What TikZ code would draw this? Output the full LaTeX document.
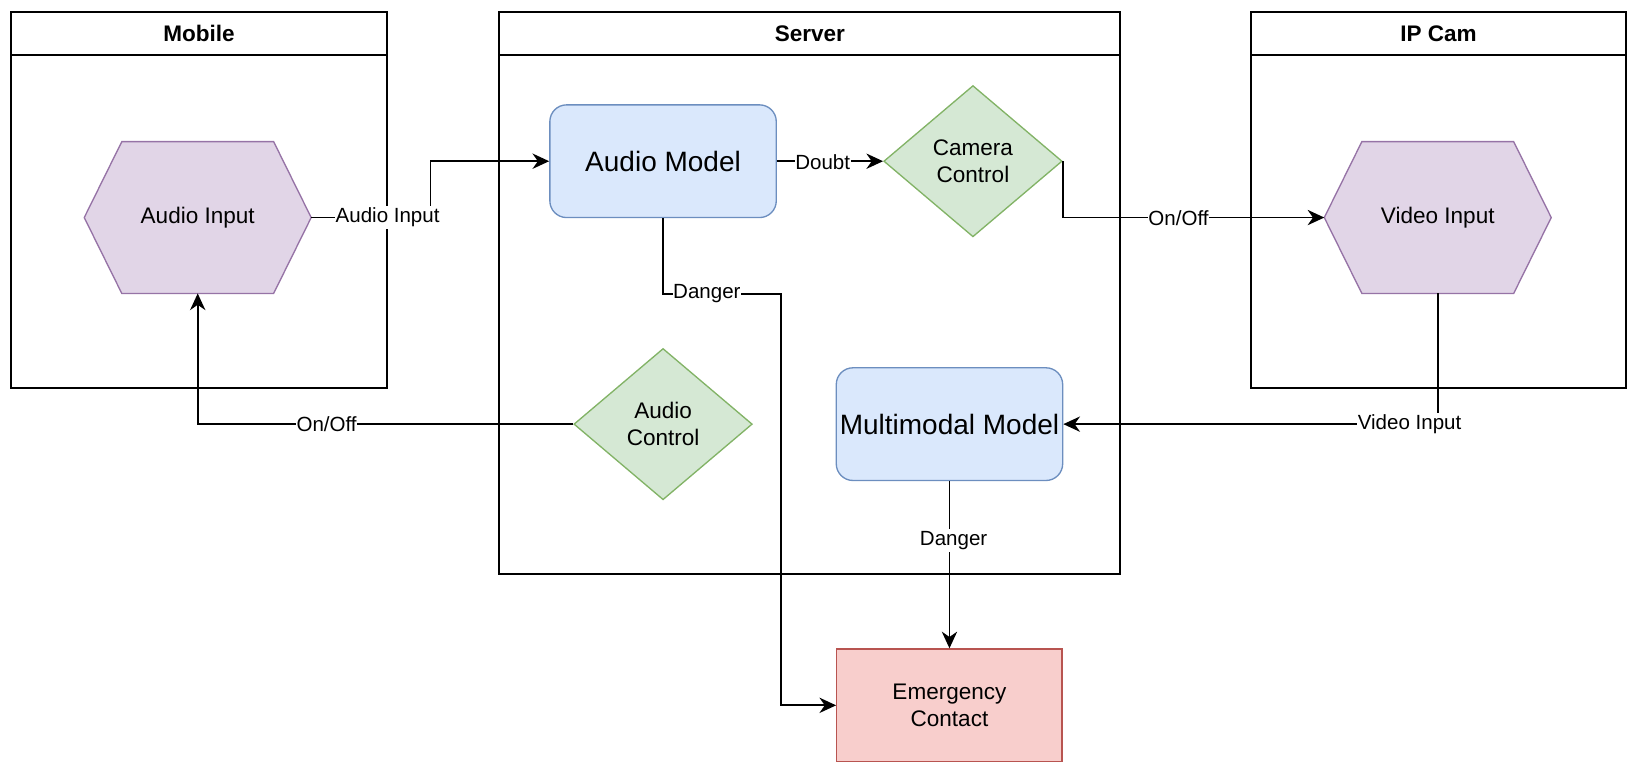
\documentclass[tikz,border=0pt]{standalone}
\usepackage{fontspec}
\setmainfont{Liberation Sans}
\usetikzlibrary{arrows.meta,shapes.geometric,backgrounds}
\definecolor{pfill}{HTML}{E1D5E7}
\definecolor{pdraw}{HTML}{9673A6}
\definecolor{bfill}{HTML}{DAE8FC}
\definecolor{bdraw}{HTML}{6C8EBF}
\definecolor{gfill}{HTML}{D5E8D4}
\definecolor{gdraw}{HTML}{82B366}
\definecolor{rfill}{HTML}{F8CECC}
\definecolor{rdraw}{HTML}{B85450}
\newlength\pxu \setlength\pxu{0.7826pt}
\begin{document}
\begin{tikzpicture}[x=0.7826pt,y=-0.7826pt,
  vfont/.style={font=\fontsize{16.9}{20}\selectfont},
  container/.style={draw, line width=1.5pt, rectangle, anchor=north west, inner sep=0},
  header/.style={draw, line width=1.5pt, rectangle, anchor=north west, inner sep=0,
    font=\fontsize{16.9}{20}\selectfont\bfseries},
  hexa/.style={rectangle, inner sep=0, minimum width=217\pxu, minimum height=145\pxu, vfont, align=center},
  hexshape/.style={fill=pfill, draw=pdraw, line width=1pt},
  model/.style={rectangle, rounded corners=16\pxu, fill=bfill, draw=bdraw, line width=1pt,
    minimum width=217\pxu, minimum height=108\pxu, inner sep=0, font=\fontsize{21}{25}\selectfont},
  decision/.style={diamond, fill=gfill, draw=gdraw, line width=1pt, inner sep=0,
    minimum width=171\pxu, minimum height=145\pxu, vfont, align=center},
  alert/.style={rectangle, fill=rfill, draw=rdraw, line width=1pt, inner sep=0,
    minimum width=216\pxu, minimum height=108\pxu, vfont, align=center},
  edge/.style={line width=1.3pt, -{Stealth[length=12.5pt,width=11.5pt,inset=4pt]}},
  elabel/.style={fill=white, inner xsep=0.5pt, inner ysep=1.5pt, font=\fontsize{15.4}{18}\selectfont}
]
\useasboundingbox (0,0) rectangle (1568,740);

% containers
\node[container, minimum width=360.5\pxu, minimum height=360\pxu] (mob) at (9.5,10.5) {};
\node[header, minimum width=360.5\pxu, minimum height=41.5\pxu] (mobh) at (9.5,10.5) {Mobile};
\node[container, minimum width=595\pxu, minimum height=539\pxu] (srv) at (477.7,10.5) {};
\node[header, minimum width=595\pxu, minimum height=41.5\pxu] (srvh) at (477.7,10.5) {Server};
\node[container, minimum width=359.5\pxu, minimum height=360\pxu] (cam) at (1198,10.5) {};
\node[header, minimum width=359.5\pxu, minimum height=41.5\pxu] (camh) at (1198,10.5) {IP Cam};

% shapes
\node[hexa] (ai) at (189.5,208.5) {Audio Input};
\node[hexa] (vi) at (1378,208.5) {Video Input};
\begin{scope}[on background layer]
  \filldraw[hexshape] (ai.west) -- ([xshift=36\pxu]ai.north west) -- ([xshift=-36\pxu]ai.north east)
    -- (ai.east) -- ([xshift=-36\pxu]ai.south east) -- ([xshift=36\pxu]ai.south west) -- cycle;
  \filldraw[hexshape] (vi.west) -- ([xshift=36\pxu]vi.north west) -- ([xshift=-36\pxu]vi.north east)
    -- (vi.east) -- ([xshift=-36\pxu]vi.south east) -- ([xshift=36\pxu]vi.south west) -- cycle;
\end{scope}
\node[model] (am) at (635.5,154.5) {Audio Model};
\node[decision] (cc) at (932.5,154.5) {Camera\\Control};
\node[decision] (ac) at (635.5,406.5) {Audio\\Control};
\node[model] (mm) at (910,406.5) {Multimodal Model};
\node[alert] (ec) at (910,676) {Emergency\\Contact};

% helper coordinates
\coordinate (c1) at (412.5,208.5);
\coordinate (c6) at (748.5,281.5);

% connectors
\draw[edge] (ai.east) -- (c1) |- (am.west);
\node[elabel] (l1) at (371.5,208.5) {Audio Input};

\draw[edge] (am.east) -- (cc.west);
\node[elabel] (l2) at (788.5,155) {Doubt};

\draw[edge] (cc.east) |- (vi.west);
\node[elabel] (l3) at (1129.5,209) {On/Off};

\draw[edge] (vi.south) |- (mm.east);
\node[elabel] (l4) at (1351,406.5) {Video Input};

\draw[edge] (mm.south) -- (ec.north);
\node[elabel] (l5) at (914,518) {Danger};

\draw[edge] (am.south) |- (c6) |- (ec.west);
\node[elabel] (l6) at (677.5,281.5) {Danger};

\draw[edge] (ac.west) -| (ai.south);
\node[elabel] (l7) at (313,406.5) {On/Off};
\end{tikzpicture}
\end{document}
